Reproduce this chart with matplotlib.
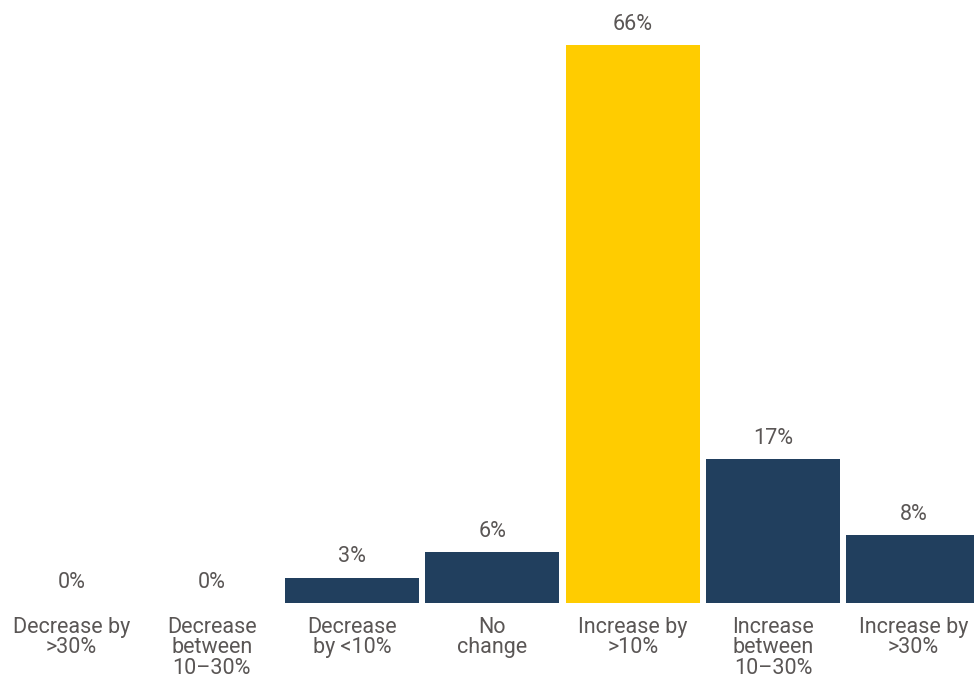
import matplotlib.pyplot as plt

plt.rcParams['font.family'] = ['Roboto', 'DejaVu Sans']

categories = [
    "Decrease by\n>30%",
    "Decrease\nbetween\n10\u201330%",
    "Decrease\nby <10%",
    "No\nchange",
    "Increase by\n>10%",
    "Increase\nbetween\n10\u201330%",
    "Increase by\n>30%",
]
values = [0, 0, 3, 6, 66, 17, 8]
highlight = "Increase by\n>10%"

NAVY = "#213f5e"
YELLOW = "#ffcc00"
TEXT = "#5a5655"

fig = plt.figure(figsize=(9.74, 6.79), dpi=100)
ax = fig.add_axes([0.0, 76 / 679, 1.0, 603 / 679])

x = list(range(len(categories)))
colors = [YELLOW if c == highlight else NAVY for c in categories]
ax.bar(x, values, width=0.955, color=colors, linewidth=0)

for xi, v in zip(x, values):
    ax.annotate(f"{v}%", xy=(xi, v), xytext=(0, 11), textcoords="offset points",
                ha="center", va="baseline", fontsize=15.5, color=TEXT)

step = 140.3
ax.set_xlim(-71.5 / step, (974 - 71.5) / step)
ax.set_ylim(0, 66 * 603 / 558)
ax.set_xticks(x)
ax.set_xticklabels(categories, fontsize=15.5, color=TEXT, linespacing=0.97)
ax.tick_params(axis="x", length=0, pad=10)
ax.set_yticks([])
for s in ax.spines.values():
    s.set_visible(False)

fig.savefig("out.png", dpi=100)
